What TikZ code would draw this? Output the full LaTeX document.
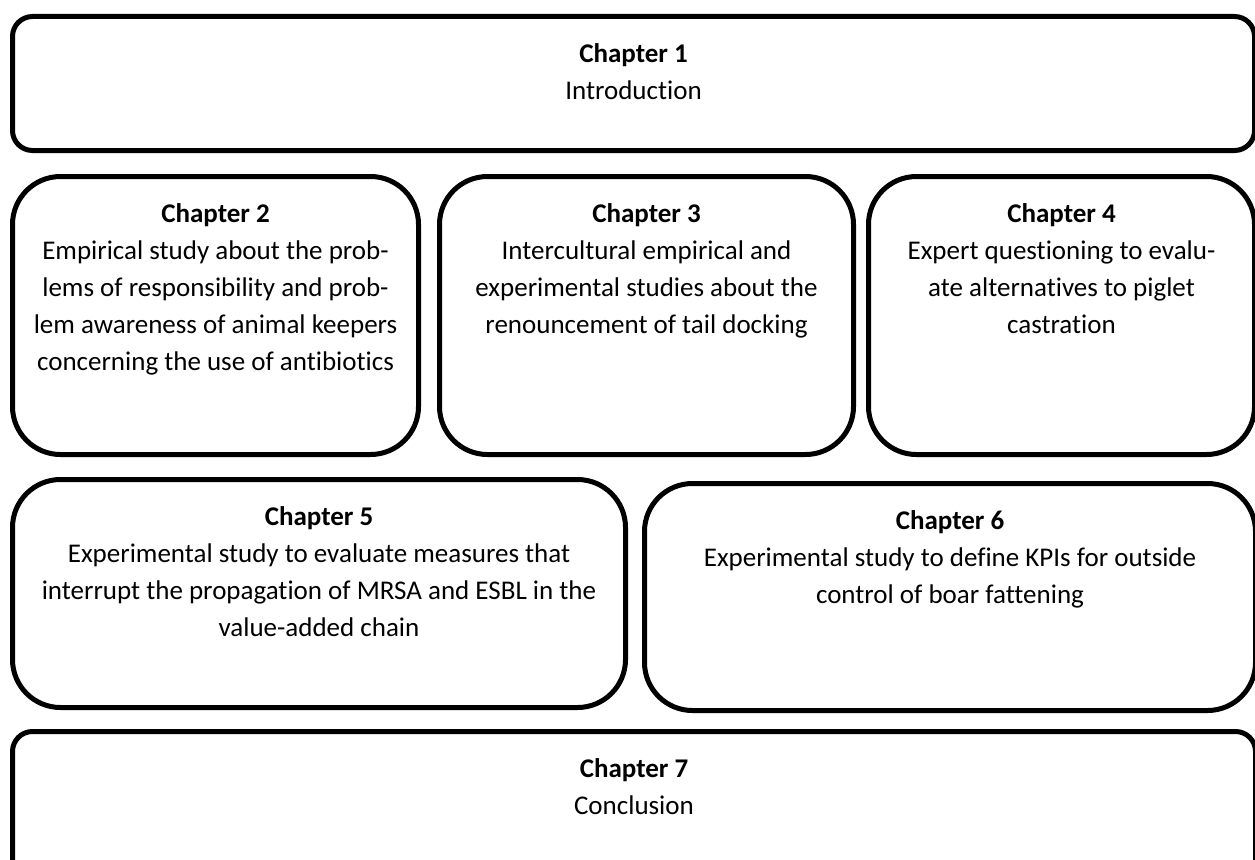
\documentclass[tikz,border=0pt]{standalone}
\usepackage{fontspec}
\setmainfont{Carlito}[Ligatures=NoCommon]
\begin{document}
\begin{tikzpicture}[x=1pt,y=-1pt,
  chbox/.style={draw=black,line width=5pt,rectangle,inner sep=0pt,anchor=north west},
  wide/.style={chbox,rounded corners=20pt},
  tall/.style={chbox,rounded corners=48pt},
  chtext/.style={anchor=north,align=center,inner sep=0pt,font=\fontsize{27}{37}\selectfont}]
\clip (0,0) rectangle (1255,859);
\fill[white] (0,0) rectangle (1255,859);
% boxes
\node[wide,minimum width=1242pt,minimum height=134pt] (b1) at (10,14) {};
\node[tall,minimum width=406pt,minimum height=278pt] (b2) at (10,174) {};
\node[tall,minimum width=414pt,minimum height=278pt] (b3) at (437,174) {};
\node[tall,minimum width=386pt,minimum height=278pt] (b4) at (866,174) {};
\node[tall,minimum width=613pt,minimum height=228pt] (b5) at (10,477) {};
\node[tall,minimum width=611pt,minimum height=227pt] (b6) at (642,481) {};
\node[wide,minimum width=1243pt,minimum height=150pt] (b7) at (10,729) {};
% texts
\node[chtext] (t1) at ([yshift=-22pt]b1.north) {\strut\textbf{Chapter 1}\\Introduction};
\node[chtext] (t2) at ([yshift=-22pt]b2.north) {\strut\textbf{Chapter 2}\\Empirical study about the prob-\\lems of responsibility and prob-\\lem awareness of animal keepers\\concerning the use of antibiotics};
\node[chtext] (t3) at ([yshift=-22pt]b3.north) {\strut\textbf{Chapter 3}\\Intercultural empirical and\\experimental studies about the\\renouncement of tail docking};
\node[chtext] (t4) at ([yshift=-22pt]b4.north) {\strut\textbf{Chapter 4}\\Expert questioning to evalu-\\ate alternatives to piglet\\castration};
\node[chtext] (t5) at ([yshift=-22pt]b5.north) {\strut\textbf{Chapter 5}\\Experimental study to evaluate measures that\\interrupt the propagation of MRSA and ESBL in the\\value-added chain};
\node[chtext] (t6) at ([yshift=-22pt]b6.north) {\strut\textbf{Chapter 6}\\Experimental study to define KPIs for outside\\control of boar fattening};
\node[chtext] (t7) at ([yshift=-22pt]b7.north) {\strut\textbf{Chapter 7}\\Conclusion};
\end{tikzpicture}
\end{document}
